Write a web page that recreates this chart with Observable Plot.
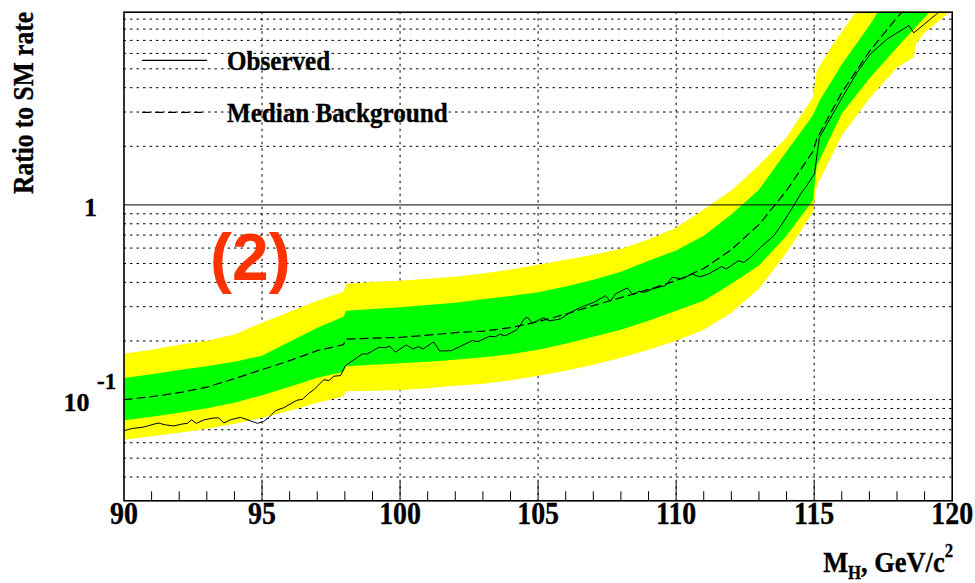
<!DOCTYPE html>
<html>
<head>
<meta charset="utf-8">
<script src="https://cdn.jsdelivr.net/npm/d3@7"></script>
<script src="https://cdn.jsdelivr.net/npm/@observablehq/plot@0.6"></script>
<style>
  html, body { margin: 0; padding: 0; background: #fff; }
  #chart { width: 975px; height: 583px; }
</style>
</head>
<body>
<div id="chart"></div>
<script>
// Higgs mass hypotheses (GeV/c^2) at which the expected bands are given
const bandMass = [90, 91, 92, 93, 94, 95, 96, 97, 97.95, 98.05, 99, 100, 101, 102, 103, 104,
  105, 106, 107, 108, 109, 110, 111, 112, 113, 114, 114.95];

// Expected ratio to SM rate: +2 sigma / +1 sigma / median / -1 sigma / -2 sigma
const yellowHigh = [0.1721, 0.1805, 0.1915, 0.2008, 0.2156, 0.2484, 0.2829, 0.3223, 0.3585, 0.3941,
  0.4012, 0.4083, 0.4181, 0.4281, 0.4436, 0.4651, 0.4934, 0.5234, 0.5553, 0.5962, 0.6634, 0.7642,
  0.9459, 1.184, 1.60, 2.218, 3.559];
const yellowHighTailMass = [115.1, 115.7, 116.5, 117.4];
const yellowHighTail = [4.898, 6.744, 9.766, 15.44];

const greenHigh = [0.1291, 0.1350, 0.1420, 0.1482, 0.1566, 0.1681, 0.1984, 0.2341, 0.2667, 0.2862,
  0.2921, 0.2977, 0.3063, 0.3147, 0.3273, 0.3405, 0.3555, 0.3804, 0.4131, 0.4542, 0.5173, 0.5823,
  0.6953, 0.8917, 1.198, 1.879, 2.876];
const greenHighTailMass = [115.2, 116, 117, 117.5];
const greenHighTail = [3.436, 5.260, 8.344, 10.82];

const medianRatio = [0.0999, 0.1035, 0.1085, 0.1158, 0.1281, 0.1425, 0.1585, 0.1783, 0.1915, 0.2044,
  0.2068, 0.2087, 0.2142, 0.2207, 0.2246, 0.2341, 0.2514, 0.2748, 0.3038, 0.3339, 0.3671, 0.4083,
  0.4707, 0.5892, 0.7920, 1.184, 1.879];
const medianTailMass = [115.1, 116, 117, 118, 118.5];
const medianTail = [2.191, 3.776, 6.136, 9.174, 10.95];

const greenLow = [0.0784, 0.0817, 0.0856, 0.0903, 0.0964, 0.1053, 0.1165, 0.1296, 0.1391, 0.1485,
  0.1511, 0.1535, 0.1566, 0.1603, 0.1652, 0.1711, 0.1805, 0.1938, 0.2104, 0.2287, 0.2544, 0.2862,
  0.3223, 0.3941, 0.4877, 0.6953, 1.052];
const greenLowTailMass = [115.1, 116, 117, 118, 119, 119.3];
const greenLowTail = [1.592, 2.946, 4.457, 6.432, 9.174, 10.20];

const yellowLow = [0.0622, 0.0648, 0.0676, 0.0709, 0.0752, 0.0807, 0.0877, 0.0964, 0.1041, 0.1105,
  0.1111, 0.1120, 0.1144, 0.1179, 0.1207, 0.1258, 0.1327, 0.1408, 0.1511, 0.1642, 0.1805, 0.2008,
  0.2287, 0.2796, 0.3715, 0.5686, 0.9130];
const yellowLowTailMass = [115.1, 116, 117, 118, 118.6, 118.7, 119, 119.9, 120];
const yellowLowTail = [1.257, 2.270, 3.518, 5.077, 5.713, 6.744, 7.680, 9.766, 10.20];

// Observed ratio to SM rate
const observedMass = [90.00, 90.30, 90.66, 90.90, 91.24, 91.50, 91.80, 92.11, 92.29, 92.45,
  92.62, 92.89, 93.25, 93.43, 93.62, 93.86, 94.22, 94.46, 94.83, 95.06,
  95.25, 95.49, 95.79, 96.27, 96.46, 96.69, 96.88, 97.24, 97.42, 97.60,
  97.84, 98.02, 98.63, 98.81, 99.23, 99.47, 99.63, 99.83, 100.23, 100.47,
  100.65, 100.83, 101.22, 101.43, 101.86, 102.61, 102.82, 103.24, 103.46, 103.60,
  103.82, 104.24, 104.51, 104.62, 104.79, 105.21, 105.39, 105.81, 106.17, 106.60,
  107.02, 107.44, 107.62, 107.80, 108.23, 108.43, 108.65, 108.89, 109.13, 109.61,
  109.86, 110.22, 110.58, 110.85, 111.18, 111.64, 111.82, 112.27, 112.45, 112.69,
  113.06, 113.54, 113.84, 114.26, 114.51, 114.69, 115.01, 115.19, 115.47, 115.95,
  116.56, 117.04, 117.65, 118.43, 118.61, 119.51, 120.00];
const observedRatio = [0.0692, 0.0711, 0.0720, 0.0735, 0.0758, 0.0741, 0.0732, 0.0749, 0.0755, 0.0786,
  0.0755, 0.0786, 0.0805, 0.0805, 0.0758, 0.0788, 0.0810, 0.0788, 0.0755, 0.0773,
  0.0810, 0.0877, 0.0909, 0.0993, 0.1002, 0.1076, 0.1124, 0.1266, 0.1251, 0.1319,
  0.1327, 0.1494, 0.1715, 0.1715, 0.1854, 0.1848, 0.1881, 0.1752, 0.1908, 0.1820,
  0.1870, 0.1820, 0.1977, 0.1777, 0.1783, 0.2008, 0.1984, 0.2112, 0.2104, 0.2163,
  0.2130, 0.2287, 0.2610, 0.2645, 0.2470, 0.2636, 0.2534, 0.2595, 0.2806, 0.3001,
  0.3158, 0.3419, 0.3196, 0.3488, 0.3746, 0.3460, 0.3597, 0.3555, 0.3701, 0.3849,
  0.4246, 0.4166, 0.4419, 0.4266, 0.4419, 0.4819, 0.4690, 0.5173, 0.5064, 0.5379,
  0.6055, 0.6953, 0.7988, 0.9917, 1.139, 1.231, 1.443, 2.218, 2.608, 3.436,
  4.801, 5.970, 7.129, 8.344, 7.654, 9.766, 11.76];

// Axis ticks and grid
const xTickLabels = [90, 95, 100, 105, 110, 115, 120];
const xMajorTicks = [95, 100, 105, 110, 115];
const xMinorTicks = [91, 92, 93, 94, 96, 97, 98, 99, 101, 102, 103, 104, 106, 107, 108, 109,
  111, 112, 113, 114, 116, 117, 118, 119];
const yGrid = [0.04, 0.05, 0.06, 0.07, 0.08, 0.09, 0.1, 0.2, 0.3, 0.4, 0.5, 0.6, 0.7, 0.8, 0.9,
  2, 3, 4, 5, 6, 7, 8, 9];

const W = 975, H = 583;
const M = {top: 11.7, right: 23.3, bottom: 82.7, left: 123.5};
const innerH = H - M.top - M.bottom;
const serif = "'Liberation Serif', 'Times New Roman', serif";
const sans = "'Liberation Sans', Arial, sans-serif";

const points = (xs, ys) => xs.map((mass, i) => ({mass, ratio: ys[i]}));
const edge = (tailMass, body, tail) => points([...bandMass, ...tailMass], [...body, ...tail]);

// each band is a closed outline: upper edge left to right, lower edge right to left
const yellowBand = [
  ...edge(yellowHighTailMass, yellowHigh, yellowHighTail),
  ...edge(yellowLowTailMass, yellowLow, yellowLowTail).reverse()
];
const greenBand = [
  ...edge(greenHighTailMass, greenHigh, greenHighTail),
  ...edge(greenLowTailMass, greenLow, greenLowTail).reverse()
];
const median = edge(medianTailMass, medianRatio, medianTail);
const observed = points(observedMass, observedRatio);

const bold = {fontFamily: serif, fontWeight: "bold", fill: "#000", stroke: "#000", strokeWidth: 0.35};

const chart = Plot.plot({
  width: W,
  height: H,
  marginTop: M.top,
  marginRight: M.right,
  marginBottom: M.bottom,
  marginLeft: M.left,
  style: {background: "#fff", overflow: "visible"},
  x: {domain: [90, 120], axis: null},
  y: {type: "log", domain: [0.0302, 9.77], axis: null},
  marks: [
    Plot.ruleY(yGrid, {stroke: "#000", strokeWidth: 1, strokeDasharray: "2.5,4"}),
    Plot.ruleX(xMajorTicks, {stroke: "#000", strokeWidth: 1, strokeDasharray: "2.5,4"}),
    Plot.line(yellowBand, {x: "mass", y: "ratio", fill: "#ffff00", stroke: "none", clip: true}),
    Plot.line(greenBand, {x: "mass", y: "ratio", fill: "#00ff00", stroke: "none", clip: true}),
    Plot.ruleY([1], {stroke: "#000", strokeWidth: 1}),
    Plot.line(median, {x: "mass", y: "ratio", stroke: "#000", strokeWidth: 1.2,
      strokeDasharray: "8,5", clip: true}),
    Plot.line(observed, {x: "mass", y: "ratio", stroke: "#000", strokeWidth: 1, clip: true}),
    Plot.ruleX(xMinorTicks, {stroke: "#000", strokeWidth: 1, insetTop: innerH - 9}),
    Plot.ruleX(xMajorTicks, {stroke: "#000", strokeWidth: 1, insetTop: innerH - 19}),
    Plot.frame({stroke: "#000", strokeWidth: 1.6}),
    Plot.text(xTickLabels, {x: d => d, text: d => String(d), frameAnchor: "bottom", dy: 23,
      fontSize: 31, className: "condensed", ...bold}),
    Plot.text([1], {y: d => d, text: () => "1", frameAnchor: "left", textAnchor: "end",
      dx: -27, dy: 2.7, fontSize: 26, ...bold}),
    Plot.text([0.1], {y: d => d, text: () => "10", frameAnchor: "left", textAnchor: "end",
      dx: -34.5, dy: 3, fontSize: 26, ...bold}),
    Plot.text([0.1], {y: d => d, text: () => "-1", frameAnchor: "left", textAnchor: "start",
      dx: -27, dy: -18, fontSize: 23, ...bold})
  ]
});

document.getElementById("chart").appendChild(chart);

// narrow the tick label glyphs a little (tall, tight serif digits)
d3.select(chart).selectAll(".condensed text").each(function () {
  const t = this.getAttribute("transform");
  if (t) {
    this.setAttribute("transform", t + " scale(0.9,1)");
  } else {
    const x = this.getAttribute("x") || 0, y = this.getAttribute("y") || 0;
    this.removeAttribute("x");
    this.removeAttribute("y");
    this.setAttribute("transform", `translate(${x},${y}) scale(0.9,1)`);
  }
});

// titles, legend and panel tag
const svg = d3.select(chart);
const serifText = (sel, size) => sel
  .attr("font-family", serif).attr("font-weight", "bold").attr("font-size", size)
  .attr("fill", "#000").attr("stroke", "#000").attr("stroke-width", 0.35);

serifText(svg.append("text"), 29)
  .attr("transform", "translate(33,12) rotate(-90) scale(0.88,1)")
  .attr("text-anchor", "end")
  .text("Ratio to SM rate");

const xt = serifText(svg.append("text"), 30)
  .attr("transform", "translate(953,572) scale(0.88,1)")
  .attr("text-anchor", "end");
xt.append("tspan").text("M");
xt.append("tspan").attr("font-size", 19).attr("dy", 7).text("H");
xt.append("tspan").attr("dy", -7).text(", GeV/c");
xt.append("tspan").attr("font-size", 19).attr("dy", -15).text("2");

const legend = [
  {label: "Observed", y: 60.3, dash: null},
  {label: "Median Background", y: 112.3, dash: "8,5"}
];
for (const item of legend) {
  svg.append("line")
    .attr("x1", 142).attr("x2", 207).attr("y1", item.y).attr("y2", item.y)
    .attr("stroke", "#000").attr("stroke-width", 1.2)
    .attr("stroke-dasharray", item.dash);
  serifText(svg.append("text"), 27)
    .attr("transform", `translate(227,${item.y + 9.8}) scale(0.93,1)`)
    .attr("text-anchor", "start")
    .text(item.label);
}

svg.append("text")
  .attr("x", 210).attr("y", 280)
  .attr("text-anchor", "start")
  .attr("font-family", sans).attr("font-weight", "bold").attr("font-size", 66)
  .attr("fill", "#ff3300")
  .text("(2)");
</script>
</body>
</html>
